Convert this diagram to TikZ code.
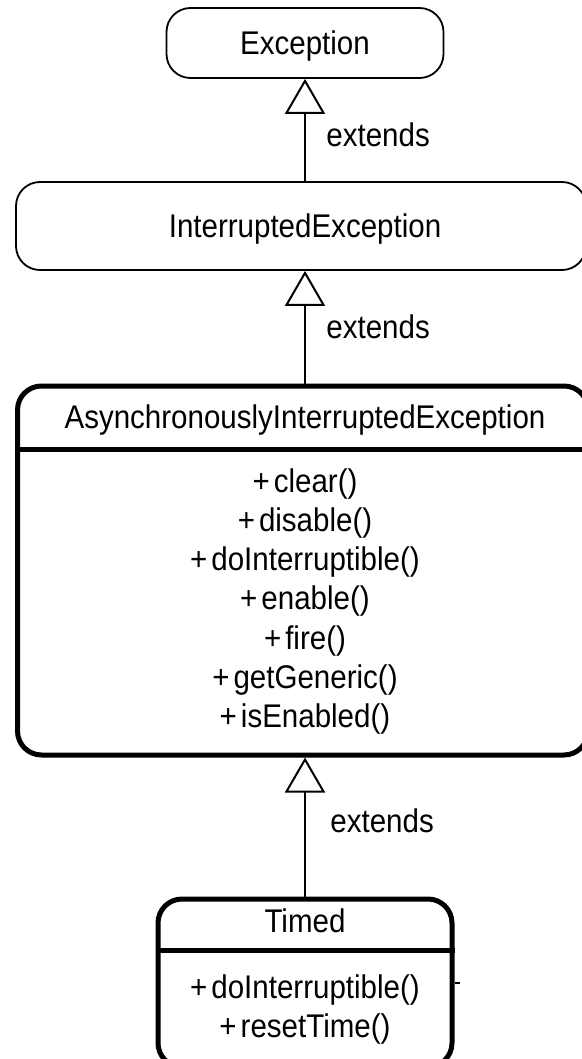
\documentclass[tikz,border=0pt]{standalone}
\usepackage{fontspec}
\setmainfont{Liberation Sans}[FakeStretch=0.9]
\usetikzlibrary{arrows.meta}

\begin{document}
\begin{tikzpicture}[x=0.5pt,y=-0.5pt,
  box/.style={draw, rectangle, rounded corners=12pt, line width=0.9pt, inner sep=0pt},
  heavybox/.style={draw, rectangle, rounded corners=12pt, line width=2.5pt, inner sep=0pt},
  lbl/.style={font=\fontsize{16.4}{19}\selectfont, inner sep=0pt, anchor=base},
  extlbl/.style={lbl, anchor=base west},
  ext/.style={line width=1pt, -{Triangle[open, length=17.5pt, width=20pt, line width=1pt]}},
  divider/.style={line width=2.5pt}
]
% page area
\path[fill=white, use as bounding box] (0,0) rectangle (582,1059);

% Exception
\node[box, minimum width=138.5pt, minimum height=35pt] (exc) at (305,43) {};
\node[lbl] (excT) at (305,55) {Exception};

% InterruptedException
\node[box, minimum width=285pt, minimum height=44pt] (ie) at (301,226) {};
\node[lbl] (ieT) at (305,238) {InterruptedException};

% AsynchronouslyInterruptedException
\node[heavybox, minimum width=285.25pt, minimum height=184.5pt] (async) at (302.75,570.5) {};
\node[lbl] (asyncT) at (305,428) {AsynchronouslyInterruptedException};
\draw[divider] (async.west |- 0,449) -- (async.east |- 0,449);
\foreach \meth [count=\i] in {clear,disable,doInterruptible,enable,fire,getGeneric,isEnabled}
  \node[lbl] (am\i) at (305,{492+39.3*(\i-1)}) {+\kern2pt\meth()};

% Timed
\node[heavybox, minimum width=147pt, minimum height=84pt] (tim) at (305,983) {};
\node[lbl] (timT) at (305,932) {Timed};
\draw[divider] (tim.west |- 0,950) -- (tim.east |- 0,950);
\node[lbl] (tm1) at (305,998) {+\kern2pt doInterruptible()};
\node[lbl] (tm2) at (305,1037) {+\kern2pt resetTime()};
\draw[line width=1.2pt] (tim.east |- 0,983) -- ++(5,0);

% generalisations
\draw[ext] (ie.north -| exc.south) -- (exc.south);
\node[extlbl] (l1) at (326,147) {extends};
\draw[ext] (async.north -| exc.south) -- (ie.south -| exc.south);
\node[extlbl] (l2) at (326,338) {extends};
\draw[ext] (tim.north) -- (async.south -| tim.north);
\node[extlbl] (l3) at (330,832) {extends};
\end{tikzpicture}
\end{document}
